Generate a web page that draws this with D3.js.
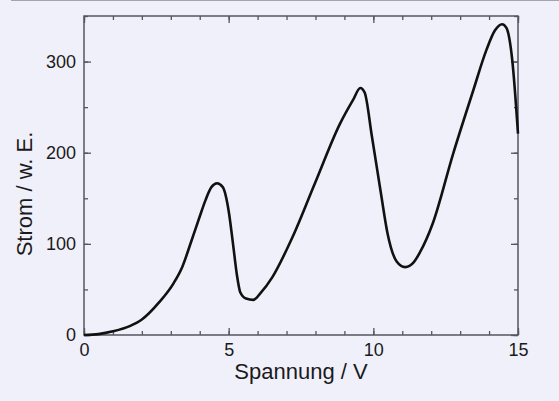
<!DOCTYPE html>
<html>
<head>
<meta charset="utf-8">
<script src="https://cdn.jsdelivr.net/npm/d3@7"></script>
<style>
  body { margin: 0; background: #f0f0fb; }
  svg { display: block; font-family: "Liberation Sans", Arial, sans-serif; }
</style>
</head>
<body>
<svg></svg>
<script>
// Spannung (V) und Strom (w. E.)
var spannung = [0, 0.5, 1.0, 1.6, 2.0, 2.6, 3.1, 3.4, 3.7, 4.0, 4.2, 4.4, 4.6, 4.8, 5.0, 5.15, 5.28, 5.4, 5.6, 5.85,
                6.1, 6.5, 7.2, 8.0, 8.85, 9.3, 9.55, 9.7, 9.95, 10.25, 10.5, 10.8, 11.1, 11.4, 11.6, 12.05,
                12.75, 13.45, 13.9, 14.2, 14.45, 14.6, 14.8, 15.0];
var strom = [0, 1, 4, 10, 17, 36, 57, 75, 102, 130, 148, 162, 166.5, 162, 136, 100, 67, 47, 40, 38.5,
             46, 63, 107, 168, 232, 258, 271, 266, 218, 158, 110, 81, 74.5, 80, 90, 122,
             198, 268, 312, 334, 341, 337, 302, 221];
var xTicks = [0, 5, 10, 15];
var yTicks = [0, 100, 200, 300];

var W = 559, H = 401;
var margin = {top: 16, right: 41, bottom: 66, left: 84},
    width = W - margin.left - margin.right,
    height = H - margin.top - margin.bottom;

var svg = d3.select("svg")
    .attr("width", W)
    .attr("height", H);

// feine Linie am oberen Rand
svg.append("line")
    .attr("x1", 11).attr("x2", W)
    .attr("y1", 0.5).attr("y2", 0.5)
    .attr("stroke", "#a4a4ae")
    .attr("stroke-width", 1);

var g = svg.append("g")
    .attr("transform", "translate(" + margin.left + "," + margin.top + ")");

var x = d3.scaleLinear().domain([0, 15]).range([0, width]);
var y = d3.scaleLinear().domain([0, 350]).range([height, 0]);

var axisColor = "#55555f";

function styleAxis(sel) {
    sel.select(".domain").remove();
    sel.selectAll(".tick line").attr("stroke", axisColor).attr("stroke-width", 1.3);
    sel.selectAll(".tick text").attr("fill", "#1a1a1a").attr("font-size", 18)
        .attr("font-family", "'Liberation Sans', Arial, sans-serif");
}

// Nebenstriche
var xMinor = d3.range(0, 15.01, 1), yMinor = d3.range(0, 350.01, 50);

g.append("g")
    .attr("transform", "translate(0," + height + ")")
    .call(d3.axisBottom(x).tickValues(xMinor).tickSize(-4).tickFormat(""))
    .call(styleAxis);
g.append("g")
    .call(d3.axisTop(x).tickValues(xMinor).tickSize(-4).tickFormat(""))
    .call(styleAxis);
g.append("g")
    .call(d3.axisLeft(y).tickValues(yMinor).tickSize(-4).tickFormat(""))
    .call(styleAxis);
g.append("g")
    .attr("transform", "translate(" + width + ",0)")
    .call(d3.axisRight(y).tickValues(yMinor).tickSize(-4).tickFormat(""))
    .call(styleAxis);

// Hauptstriche mit Beschriftung
g.append("g")
    .attr("transform", "translate(0," + height + ")")
    .call(d3.axisBottom(x).tickValues(xTicks).tickSize(-7).tickPadding(8).tickFormat(d3.format("d")))
    .call(styleAxis);
g.append("g")
    .call(d3.axisTop(x).tickValues(xTicks).tickSize(-7).tickFormat(""))
    .call(styleAxis);
g.append("g")
    .call(d3.axisLeft(y).tickValues(yTicks).tickSize(-7).tickPadding(8).tickFormat(d3.format("d")))
    .call(styleAxis);
g.append("g")
    .attr("transform", "translate(" + width + ",0)")
    .call(d3.axisRight(y).tickValues(yTicks).tickSize(-7).tickFormat(""))
    .call(styleAxis);

// Rahmen
g.append("rect")
    .attr("width", width)
    .attr("height", height)
    .attr("fill", "none")
    .attr("stroke", axisColor)
    .attr("stroke-width", 1.5);

var data = spannung.map(function(v, i) { return {v: v, s: strom[i]}; });

g.append("path")
    .datum(data)
    .attr("fill", "none")
    .attr("stroke", "#111")
    .attr("stroke-width", 2.6)
    .attr("stroke-linejoin", "round")
    .attr("d", d3.line()
        .curve(d3.curveMonotoneX)
        .x(function(d) { return x(d.v); })
        .y(function(d) { return y(d.s); }));

// Achsentitel
svg.append("text")
    .attr("x", margin.left + width / 2)
    .attr("y", 379)
    .attr("text-anchor", "middle")
    .attr("font-size", 22)
    .attr("fill", "#1a1a1a")
    .text("Spannung / V");

svg.append("text")
    .attr("transform", "translate(32,194) rotate(-90)")
    .attr("text-anchor", "middle")
    .attr("font-size", 22)
    .attr("fill", "#1a1a1a")
    .text("Strom / w. E.");
</script>
</body>
</html>
